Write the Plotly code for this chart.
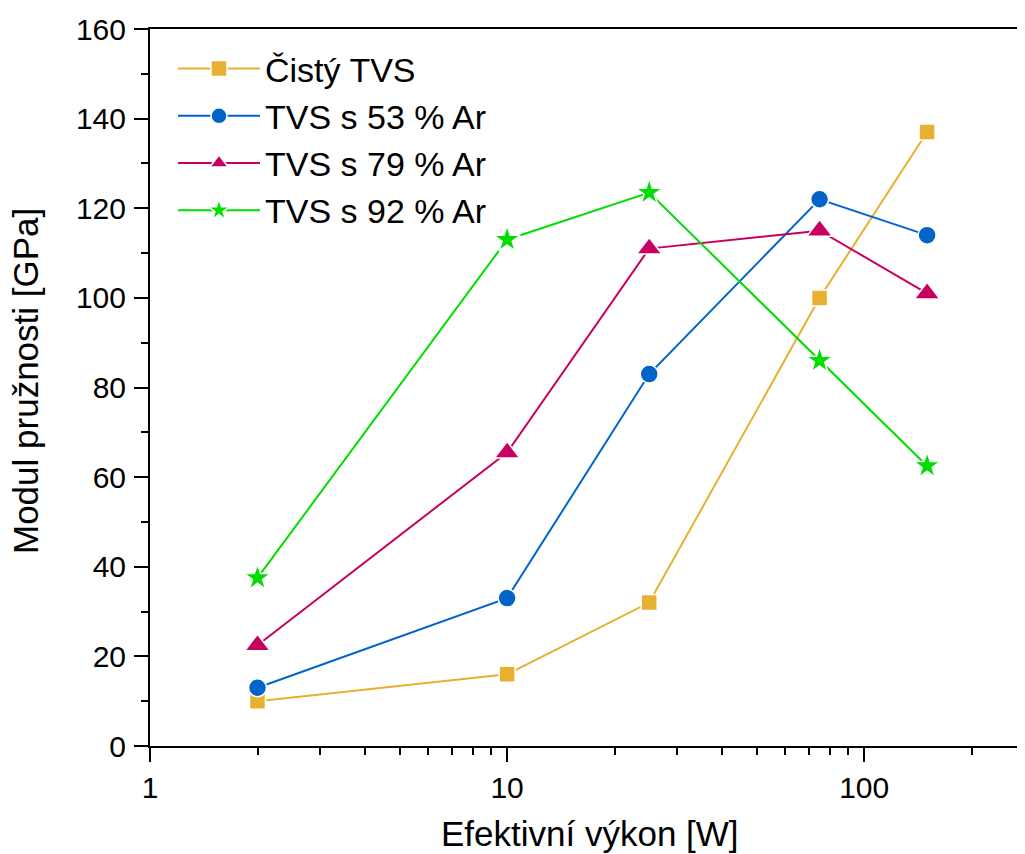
import plotly.graph_objects as go
import math

# Data
power_w = [2, 10, 25, 75, 150]
series_names = ["Čistý TVS", "TVS s 53 % Ar", "TVS s 79 % Ar", "TVS s 92 % Ar"]
cisty = [10, 16, 32, 100, 137]
ar53 = [13, 33, 83, 122, 114]
ar79 = [22.5, 65.5, 111, 115, 101]
ar92 = [37.5, 113, 123.5, 86, 62.5]

x_tickvals = [1, 10, 100]
x_ticktext = ["1", "10", "100"]
y_tickvals = [0, 20, 40, 60, 80, 100, 120, 140, 160]

colors = ["#E8B030", "#0064C8", "#C8005F", "#00DD00"]
symbols = ["square", "circle", "triangle-up", "star"]
sizes = [16, 18, 22, 20]
values = [cisty, ar53, ar79, ar92]

FONT = "Liberation Sans, Arial, sans-serif"

# page body has an 8px margin: figure origin sits at (8, 8) in the window
W, H = 1017, 846
L, T = 142, 21
B = H - (746 - 8)
PW = W - L
PH = H - T - B

fig = go.Figure()
for i, (name, vals) in enumerate(zip(series_names, values)):
    fig.add_trace(go.Scatter(
        x=power_w, y=vals, name=name, mode="lines+markers",
        legendgroup=f"g{i}",
        line=dict(color=colors[i], width=2),
        marker=dict(symbol=symbols[i], size=sizes[i], color=colors[i],
                    line=dict(color="white", width=1.5)),
    ))

fig.update_layout(
    width=W, height=H,
    margin=dict(l=L, r=0, t=T, b=B),
    paper_bgcolor="white", plot_bgcolor="white",
    font=dict(family=FONT, color="black", size=30),
    showlegend=True,
    legend=dict(x=(173 - 150) / PW, y=1 - (40 - 29) / PH, xanchor="left", yanchor="top",
                font=dict(size=34, family=FONT), itemwidth=82,
                tracegroupgap=0, bgcolor="rgba(0,0,0,0)", borderwidth=0),
    xaxis=dict(type="log", range=[0, math.log10(282)],
               tickvals=x_tickvals, ticktext=x_ticktext,
               ticks="outside", ticklen=14, tickwidth=2, tickcolor="black",
               showline=True, linewidth=2, linecolor="black", mirror=True,
               showgrid=False, zeroline=False,
               tickfont=dict(size=30),
               minor=dict(ticks="outside", ticklen=7, tickwidth=1.5, tickcolor="black",
                          dtick="D1", showgrid=False)),
    yaxis=dict(range=[0, 160], tickvals=y_tickvals,
               ticks="outside", ticklen=14, tickwidth=2, tickcolor="black",
               showline=True, linewidth=2, linecolor="black", mirror=False,
               showgrid=False, zeroline=False,
               tickfont=dict(size=30), ticklabelstandoff=2,
               minor=dict(ticks="outside", ticklen=7, tickwidth=1.5, tickcolor="black",
                          dtick=10, showgrid=False)),
    annotations=[
        dict(text="Efektivní výkon [W]", xref="paper", yref="paper",
             x=(590 - 150) / PW, y=-(833 - 746) / PH, xanchor="center", yanchor="middle",
             showarrow=False, font=dict(size=35, family=FONT)),
        dict(text="Modul pružnosti [GPa]", xref="paper", yref="paper",
             x=-(150 - 26) / PW, y=(746 - 381) / PH, xanchor="center", yanchor="middle",
             textangle=-90, showarrow=False, font=dict(size=35, family=FONT)),
    ],
)

fig.write_html("out.html")
